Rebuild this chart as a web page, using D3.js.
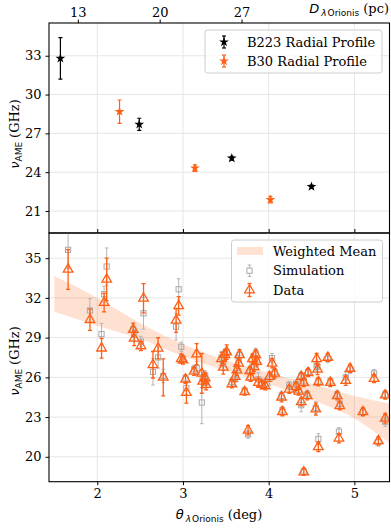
<!DOCTYPE html>
<html>
<head>
<meta charset="utf-8">
<script src="https://cdn.jsdelivr.net/npm/d3@7"></script>
<style>
  html, body { margin: 0; padding: 0; background: #fff; }
  svg { display: block; }
  text { font-family: "DejaVu Serif", serif; fill: #000; }
  .sans { font-family: "DejaVu Sans", sans-serif; }
</style>
</head>
<body>
<svg id="chart" width="391" height="528"></svg>
<script>
// ---------------- DATA ----------------
// Top panel: radial profiles (theta in deg, nu_AME in GHz)
const b223Theta = [1.57, 2.49, 3.57, 4.50];
const b223Value = [32.8, 27.7, 25.08, 22.88];
const b223Err   = [1.6, 0.47, 0.15, 0.12];

const b30Theta = [2.26, 3.14, 4.02];
const b30Value = [28.68, 24.32, 21.88];
const b30Err   = [0.9, 0.25, 0.25];

// Bottom panel: individual regions
const regionTheta = [1.66, 1.915, 2.05, 2.08, 2.11, 2.42, 2.43, 2.51, 2.54, 2.65,
  2.71, 2.77, 2.92, 2.95, 2.98, 3.00, 3.03, 3.04, 3.13, 3.16,
  3.22, 3.23, 3.26, 3.27, 3.45, 3.47, 3.49, 3.51, 3.57, 3.61,
  3.63, 3.65, 3.66, 3.72, 3.76, 3.78, 3.79, 3.81, 3.83, 3.85,
  3.86, 3.88, 3.92, 3.96, 4.01, 4.04, 4.07, 4.15, 4.16, 4.24,
  4.32, 4.35, 4.38, 4.38, 4.41, 4.41, 4.45, 4.46, 4.55, 4.56,
  4.57, 4.58, 4.58, 4.69, 4.72, 4.80, 4.83, 4.82, 4.90, 4.95,
  5.10, 5.23, 5.28, 5.36, 5.36];
const dataValue = [34.15, 30.35, 28.2, 31.64, 33.4, 29.6, 28.95, 28.37, 31.97, 26.95,
  28.19, 26.0, 30.3, 31.4, 27.4, 27.3, 25.85, 24.85, 26.45, 27.75,
  26.3, 25.7, 25.95, 25.45, 27.4, 26.75, 27.7, 27.9, 25.5, 26.05,
  26.55, 27.05, 27.7, 24.9, 22.0, 26.5, 26.0, 27.4, 26.8, 27.7,
  27.2, 25.6, 25.45, 25.35, 26.05, 27.06, 26.3, 24.5, 23.4, 25.1,
  25.3, 24.95, 26.05, 24.15, 25.6, 18.85, 24.6, 26.35, 23.6, 27.4,
  26.6, 25.65, 20.75, 27.5, 25.6, 24.6, 23.85, 21.4, 25.75, 26.67,
  23.4, 25.9, 21.2, 24.66, 22.9];
const dataErr = [1.5, 0.8, 0.75, 0.7, 1.6, 0.5, 0.55, 0.35, 1.1, 1.0,
  0.8, 1.4, 0.9, 0.7, 0.35, 0.3, 0.3, 0.8, 0.3, 0.8,
  1.5, 0.5, 0.4, 0.4, 0.5, 0.5, 0.4, 0.55, 0.3, 0.35,
  0.4, 0.4, 0.4, 0.25, 0.35, 0.3, 0.3, 0.35, 0.35, 0.4,
  0.35, 0.3, 0.3, 0.3, 0.35, 0.35, 0.35, 0.35, 0.3, 0.3,
  0.3, 0.3, 0.3, 0.3, 0.3, 0.25, 0.3, 0.3, 0.45, 0.4,
  0.4, 0.3, 0.35, 0.3, 0.3, 0.3, 0.3, 0.35, 0.35, 0.3,
  0.3, 0.3, 0.3, 0.3, 0.35];
const simValue = [35.63, 31.05, 29.27, 32.28, 34.37, 29.6, 29.2, 28.7, 30.84, 26.42,
  27.5, 26.1, 29.83, 32.65, 28.31, 27.4, 25.9, 25.2, 26.6, 26.7,
  24.1, 25.9, 26.1, 25.6, 27.5, 27.0, 27.8, 27.9, 25.65, 25.85,
  26.7, 27.3, 27.7, 25.0, 21.7, 26.5, 26.0, 27.3, 26.9, 27.8,
  27.3, 25.85, 25.5, 25.5, 25.9, 27.45, 26.4, 24.6, 23.5, 25.4,
  25.5, 25.05, 26.1, 23.9, 25.7, 18.9, 24.7, 26.4, 23.7, 26.9,
  26.8, 25.7, 21.35, 27.4, 25.7, 24.7, 24.0, 21.9, 26.0, 26.6,
  23.4, 26.3, 21.1, 24.7, 22.65];
const simErr = [1.4, 0.9, 0.8, 0.6, 1.4, 0.45, 0.4, 0.4, 1.2, 1.0,
  0.8, 0.5, 1.0, 0.8, 0.35, 0.3, 0.3, 0.5, 0.3, 0.5,
  1.6, 0.5, 0.4, 0.4, 0.4, 0.5, 0.35, 0.4, 0.3, 0.5,
  1.0, 0.35, 0.3, 0.25, 0.3, 0.3, 0.3, 0.35, 0.35, 0.4,
  0.35, 0.5, 0.3, 0.4, 0.5, 0.35, 0.35, 0.35, 0.3, 0.3,
  0.3, 0.3, 0.3, 0.5, 0.3, 0.25, 0.3, 0.3, 0.45, 0.4,
  0.4, 0.3, 0.4, 0.3, 0.3, 0.3, 0.3, 0.3, 0.4, 0.3,
  0.3, 0.3, 0.3, 0.3, 0.35];

// Weighted mean band
const bandTheta = [1.50, 2.00, 2.50, 3.00, 3.50, 4.00, 4.50, 5.00, 5.42];
const bandLow   = [30.95, 29.9, 28.9, 27.6, 26.5, 25.5, 24.3, 22.9, 21.0];
const bandHigh  = [33.65, 32.0, 30.1, 28.5, 27.3, 26.35, 25.5, 24.6, 24.0];

// Ticks
const thetaTicks = [2, 3, 4, 5];
const distTicks = [13, 20, 27];
const topYTicks = [21, 24, 27, 30, 33];
const botYTicks = [20, 23, 26, 29, 32, 35];

// ---------------- LAYOUT ----------------
const ORANGE = "#ff5f14";
const GRAY = "#a9a9a9";
const GRID = "#e6e6e6";
const L = 49, R = 389.5;
const topT = 23, topB = 233, botT = 233, botB = 481.7;
const thetaDomain = [1.437, 5.41];
const K = 420 * Math.PI / 180; // pc per deg at lambda Orionis

const svg = d3.select("#chart");
const x = d3.scaleLinear().domain(thetaDomain).range([L, R]);
const xD = d3.scaleLinear().domain(thetaDomain.map(t => t * K)).range([L, R]);
const yTop = d3.scaleLinear().domain([19.3, 35.53]).range([topB, topT]);
const yBot = d3.scaleLinear().domain([18.12, 36.9]).range([botB, botT]);

const defs = svg.append("defs");
defs.append("clipPath").attr("id", "clipTop").append("rect")
  .attr("x", L).attr("y", topT).attr("width", R - L).attr("height", topB - topT);
defs.append("clipPath").attr("id", "clipBot").append("rect")
  .attr("x", L).attr("y", botT).attr("width", R - L).attr("height", botB - botT);

function grid(g, y, yticks, top, bottom) {
  g.selectAll(".gx").data(thetaTicks).enter().append("line")
    .attr("x1", d => x(d)).attr("x2", d => x(d)).attr("y1", top).attr("y2", bottom)
    .attr("stroke", GRID).attr("stroke-width", 1);
  g.selectAll(".gy").data(yticks).enter().append("line")
    .attr("x1", L).attr("x2", R).attr("y1", d => y(d)).attr("y2", d => y(d))
    .attr("stroke", GRID).attr("stroke-width", 1);
}

function starPath(size) {
  return d3.symbol().type(d3.symbolStar).size(size)();
}
const STAR = 30;

function errorbars(g, xs, ys, es, y, color, cap, width) {
  const idx = d3.range(xs.length);
  g.selectAll(null).data(idx).enter().append("line")
    .attr("x1", i => x(xs[i])).attr("x2", i => x(xs[i]))
    .attr("y1", i => y(ys[i] - es[i])).attr("y2", i => y(ys[i] + es[i]))
    .attr("stroke", color).attr("stroke-width", width);
  [-1, 1].forEach(s => {
    g.selectAll(null).data(idx).enter().append("line")
      .attr("x1", i => x(xs[i]) - cap).attr("x2", i => x(xs[i]) + cap)
      .attr("y1", i => y(ys[i] + s * es[i])).attr("y2", i => y(ys[i] + s * es[i]))
      .attr("stroke", color).attr("stroke-width", width);
  });
}

// ---------------- TOP PANEL ----------------
const gTop = svg.append("g");
grid(gTop, yTop, topYTicks, topT, topB);
const gTopData = gTop.append("g").attr("clip-path", "url(#clipTop)");
errorbars(gTopData, b223Theta, b223Value, b223Err, yTop, "#000", 2, 1.2);
gTopData.selectAll(null).data(d3.range(b223Theta.length)).enter().append("path")
  .attr("d", starPath(STAR))
  .attr("transform", i => `translate(${x(b223Theta[i])},${yTop(b223Value[i])})`)
  .attr("fill", "#000");
errorbars(gTopData, b30Theta, b30Value, b30Err, yTop, ORANGE, 2, 1.2);
gTopData.selectAll(null).data(d3.range(b30Theta.length)).enter().append("path")
  .attr("d", starPath(STAR))
  .attr("transform", i => `translate(${x(b30Theta[i])},${yTop(b30Value[i])})`)
  .attr("fill", ORANGE);

// axes top panel
const axTopLeft = gTop.append("g").attr("transform", `translate(${L},0)`)
  .call(d3.axisLeft(yTop).tickValues(topYTicks).tickSize(3.5).tickPadding(4));
const axTopTop = gTop.append("g").attr("transform", `translate(0,${topT})`)
  .call(d3.axisTop(xD).tickValues(distTicks).tickSize(3.5).tickPadding(3));
const axTopBottom = gTop.append("g").attr("transform", `translate(0,${topB})`)
  .call(d3.axisTop(x).tickValues(thetaTicks).tickSize(4).tickFormat(""));
[axTopLeft, axTopTop, axTopBottom].forEach(a => {
  a.select(".domain").remove();
  a.selectAll("line").attr("stroke", "#000").attr("stroke-width", 1);
  a.selectAll("text").attr("font-family", "DejaVu Serif").attr("font-size", 13).attr("fill", "#000");
});
gTop.append("rect").attr("x", L).attr("y", topT).attr("width", R - L).attr("height", topB - topT)
  .attr("fill", "none").attr("stroke", "#000").attr("stroke-width", 1.1);

// top label D_lambda Orionis (pc)
const dLab = svg.append("text").attr("x", 389).attr("y", 13).attr("text-anchor", "end")
  .attr("font-size", 13);
dLab.append("tspan").attr("class", "sans").attr("font-style", "italic").text("D");
dLab.append("tspan").attr("class", "sans").attr("font-style", "italic").attr("font-size", 9)
  .attr("dx", 2).attr("dy", 3).text("λ");
dLab.append("tspan").attr("class", "sans").attr("font-size", 9).attr("dx", 1).text("Orionis");
dLab.append("tspan").attr("dx", 4).attr("dy", -3).text("(pc)");

// top legend
const lgTop = svg.append("g");
lgTop.append("rect").attr("x", 205).attr("y", 30).attr("width", 177).attr("height", 43)
  .attr("rx", 2.5).attr("fill", "#fff").attr("fill-opacity", 0.8)
  .attr("stroke", "#cccccc").attr("stroke-width", 1);
[{c: "#000", label: "B223 Radial Profile", y: 42}, {c: ORANGE, label: "B30 Radial Profile", y: 61}]
  .forEach(e => {
    lgTop.append("line").attr("x1", 224).attr("x2", 224).attr("y1", e.y - 6).attr("y2", e.y + 6)
      .attr("stroke", e.c).attr("stroke-width", 1.2);
    [-6, 6].forEach(o => lgTop.append("line").attr("x1", 222).attr("x2", 226)
      .attr("y1", e.y + o).attr("y2", e.y + o).attr("stroke", e.c).attr("stroke-width", 1.2));
    lgTop.append("path").attr("d", starPath(STAR)).attr("transform", `translate(224,${e.y})`).attr("fill", e.c);
    lgTop.append("text").attr("x", 247).attr("y", e.y + 4.5).attr("font-size", 13).text(e.label);
  });

// ---------------- BOTTOM PANEL ----------------
const gBot = svg.append("g");
grid(gBot, yBot, botYTicks, botT, botB);
const gBotData = gBot.append("g").attr("clip-path", "url(#clipBot)");
const bandIdx = d3.range(bandTheta.length);
gBotData.append("path").datum(bandIdx)
  .attr("d", d3.area().curve(d3.curveMonotoneX)
    .x(i => x(bandTheta[i])).y0(i => yBot(bandLow[i])).y1(i => yBot(bandHigh[i])))
  .attr("fill", "#ff6a1a").attr("fill-opacity", 0.2);

// simulation
errorbars(gBotData, regionTheta, simValue, simErr, yBot, "#b5b5b5", 1.8, 1);
gBotData.selectAll(null).data(d3.range(regionTheta.length)).enter().append("rect")
  .attr("x", i => x(regionTheta[i]) - 2.6).attr("y", i => yBot(simValue[i]) - 2.6)
  .attr("width", 5.2).attr("height", 5.2)
  .attr("fill", "none").attr("stroke", GRAY).attr("stroke-width", 1);

// data
errorbars(gBotData, regionTheta, dataValue, dataErr, yBot, ORANGE, 2, 1.3);
const triPath = d3.symbol().type(d3.symbolTriangle).size(40)();
gBotData.selectAll(null).data(d3.range(regionTheta.length)).enter().append("path")
  .attr("d", triPath)
  .attr("transform", i => `translate(${x(regionTheta[i])},${yBot(dataValue[i])})`)
  .attr("fill", "none").attr("stroke", ORANGE).attr("stroke-width", 1.3);

// axes bottom
const axBotLeft = gBot.append("g").attr("transform", `translate(${L},0)`)
  .call(d3.axisLeft(yBot).tickValues(botYTicks).tickSize(3.5).tickPadding(4));
const axBotBottom = gBot.append("g").attr("transform", `translate(0,${botB})`)
  .call(d3.axisBottom(x).tickValues(thetaTicks).tickFormat(d3.format("d")).tickSize(3.5).tickPadding(4));
[axBotLeft, axBotBottom].forEach(a => {
  a.select(".domain").remove();
  a.selectAll("line").attr("stroke", "#000").attr("stroke-width", 1);
  a.selectAll("text").attr("font-family", "DejaVu Serif").attr("font-size", 13).attr("fill", "#000");
});
gBot.append("rect").attr("x", L).attr("y", botT).attr("width", R - L).attr("height", botB - botT)
  .attr("fill", "none").attr("stroke", "#000").attr("stroke-width", 1.1);

// bottom legend
const lgBot = svg.append("g");
lgBot.append("rect").attr("x", 231.5).attr("y", 240).attr("width", 151).attr("height", 62)
  .attr("rx", 2.5).attr("fill", "#fff").attr("fill-opacity", 0.8)
  .attr("stroke", "#cccccc").attr("stroke-width", 1);
lgBot.append("rect").attr("x", 237).attr("y", 247).attr("width", 26).attr("height", 8)
  .attr("fill", "#ff6a1a").attr("fill-opacity", 0.2);
lgBot.append("text").attr("x", 273).attr("y", 255.5).attr("font-size", 13).text("Weighted Mean");
// simulation entry
lgBot.append("line").attr("x1", 249.5).attr("x2", 249.5).attr("y1", 265).attr("y2", 276.5)
  .attr("stroke", "#b5b5b5").attr("stroke-width", 1);
[265, 276.5].forEach(yy => lgBot.append("line").attr("x1", 247.7).attr("x2", 251.3)
  .attr("y1", yy).attr("y2", yy).attr("stroke", "#b5b5b5").attr("stroke-width", 1));
lgBot.append("rect").attr("x", 246.9).attr("y", 268.1).attr("width", 5.2).attr("height", 5.2)
  .attr("fill", "#fff").attr("stroke", GRAY).attr("stroke-width", 1);
lgBot.append("text").attr("x", 273).attr("y", 275).attr("font-size", 13).text("Simulation");
// data entry
lgBot.append("line").attr("x1", 249.5).attr("x2", 249.5).attr("y1", 283.5).attr("y2", 296.5)
  .attr("stroke", ORANGE).attr("stroke-width", 1.3);
[283.5, 296.5].forEach(yy => lgBot.append("line").attr("x1", 247.5).attr("x2", 251.5)
  .attr("y1", yy).attr("y2", yy).attr("stroke", ORANGE).attr("stroke-width", 1.3));
lgBot.append("path").attr("d", triPath).attr("transform", "translate(249.5,290)")
  .attr("fill", "none").attr("stroke", ORANGE).attr("stroke-width", 1.3);
lgBot.append("text").attr("x", 273).attr("y", 294.5).attr("font-size", 13).text("Data");

// y labels
function yLabel(cy) {
  const t = svg.append("text").attr("transform", `translate(19,${cy}) rotate(-90)`)
    .attr("text-anchor", "middle").attr("font-size", 13);
  t.append("tspan").attr("class", "sans").attr("font-style", "italic").text("ν");
  t.append("tspan").attr("class", "sans").attr("font-size", 9).attr("dy", 3).text("AME");
  t.append("tspan").attr("dx", 4).attr("dy", -3).text("(GHz)");
}
yLabel(134);
yLabel(361);

// x label
const xl = svg.append("text").attr("x", 219).attr("y", 519).attr("text-anchor", "middle")
  .attr("font-size", 13);
xl.append("tspan").attr("class", "sans").attr("font-style", "italic").text("θ");
xl.append("tspan").attr("class", "sans").attr("font-style", "italic").attr("font-size", 9)
  .attr("dx", 2).attr("dy", 3).text("λ");
xl.append("tspan").attr("class", "sans").attr("font-size", 9).attr("dx", 1).text("Orionis");
xl.append("tspan").attr("dx", 4).attr("dy", -3).text("(deg)");
</script>
</body>
</html>
